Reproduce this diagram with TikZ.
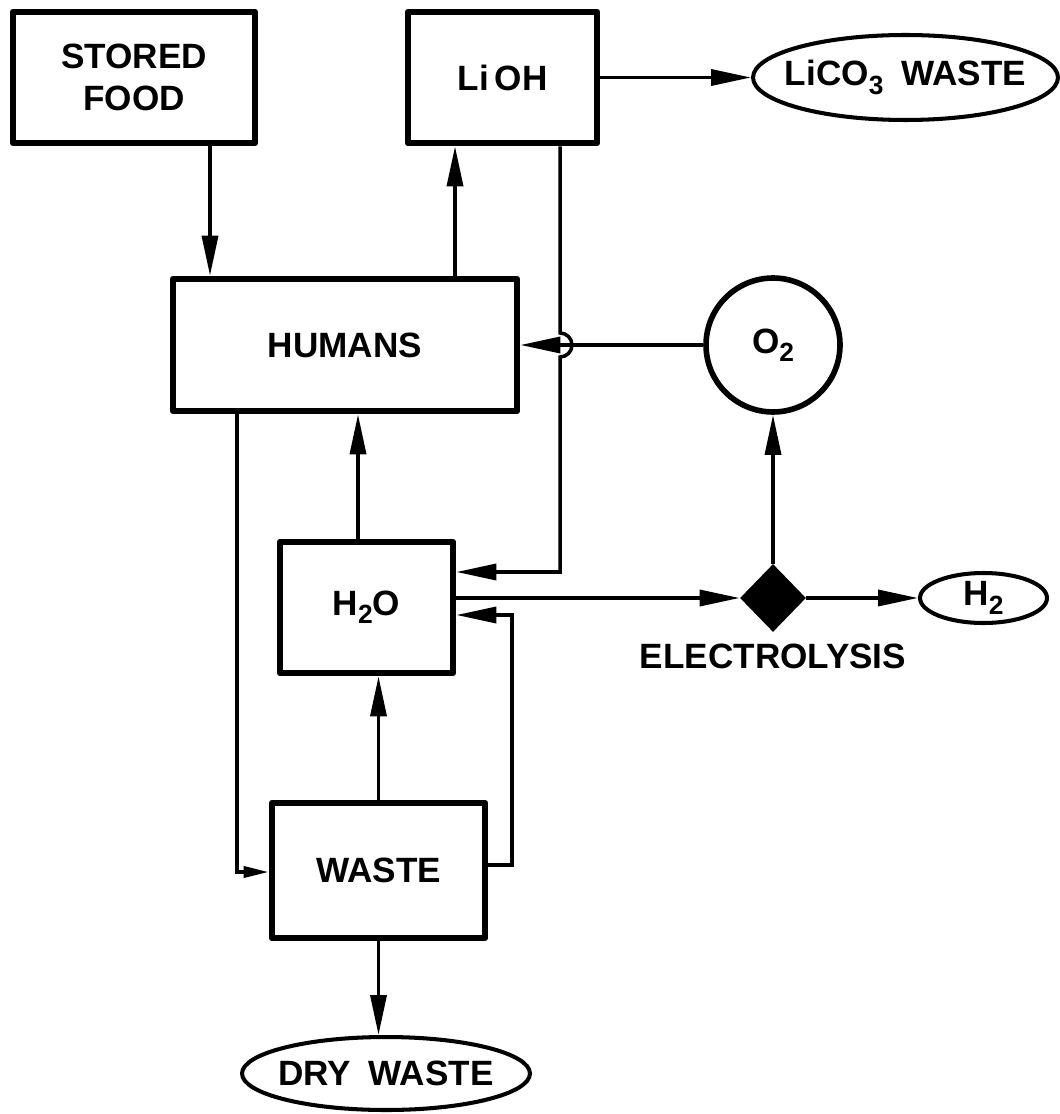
\documentclass[tikz,border=0pt]{standalone}
\usepackage{fontspec}
\setmainfont{Liberation Sans}
\usetikzlibrary{shapes.geometric, arrows.meta, positioning, calc}
\newcommand{\lowidx}[1]{\raisebox{-0.45ex}{\fontsize{15}{15}\selectfont #1}}

\begin{document}
\begin{tikzpicture}[x=0.02cm, y=0.02cm,
        font=\fontsize{20}{24}\selectfont\bfseries,
        box/.style={draw, line width=3.8pt, line join=round, inner sep=0pt, align=center},
        outflow/.style={ellipse, draw, line width=2.3pt, inner sep=0pt},
        flow/.style={line width=2pt, -{Triangle[length=0.8cm, width=0.32cm]}},
        smallflow/.style={line width=2pt, -{Triangle[length=0.5cm, width=0.22cm]}}]
        \useasboundingbox (0,0) rectangle (1059,-1114);

        % Stores and processes
        \node[box, minimum width=4.84cm, minimum height=2.62cm] (food) at (134,-77.5) {STORED\\FOOD};
        \node[box, minimum width=3.78cm, minimum height=2.62cm] (lioh) at (502.5,-77.5) {Li\,OH};
        \node[box, minimum width=6.88cm, minimum height=2.64cm] (humans) at (345,-345) {HUMANS};
        \node[box, minimum width=3.46cm, minimum height=2.62cm] (h2o) at (366.5,-607.5) {H\lowidx{2}O};
        \node[box, minimum width=4.26cm, minimum height=2.70cm] (waste) at (378.5,-870.5) {WASTE};

        % Oxygen and electrolysis
        \node[circle, draw, line width=3.2pt, minimum size=2.68cm, inner sep=0pt] (o2) at (773,-345) {O\lowidx{2}};
        \node[diamond, fill=black, minimum width=1.32cm, minimum height=1.36cm, inner sep=0pt] (elec) at (773,-598) {};
        \node (elabel) at (773,-656) {ELECTROLYSIS};

        % Outputs
        \node[outflow, minimum width=6.1cm, minimum height=1.7cm] (lico) at (905.5,-77.5) {\makebox[0pt]{LiCO\lowidx{3}\hspace{0.5em}WASTE}};
        \node[outflow, minimum width=2.54cm, minimum height=1.0cm] (h2) at (983.5,-598) {\makebox[0pt]{H\lowidx{2}}};
        \node[outflow, minimum width=5.76cm, minimum height=1.46cm] (dry) at (386,-1073.5) {\makebox[0pt]{DRY\hspace{0.5em}WASTE}};

        % Columns and rows of the connectors
        \coordinate (cfood) at (210,0);
        \coordinate (cup) at (455,0);
        \coordinate (cret) at (560,0);
        \coordinate (cmid) at (358,0);
        \coordinate (cleft) at (237,0);
        \coordinate (cloop) at (512,0);
        \coordinate (rret) at (0,-572);
        \coordinate (rloop) at (0,-615);
        \coordinate (rin) at (0,-872);
        \coordinate (rout) at (0,-865);

        % Connectors
        \draw[flow] (food.south -| cfood) -- (humans.north -| cfood);
        \draw[flow] (humans.north -| cup) -- (lioh.south -| cup);
        \draw[flow] (lioh.east) -- (lico.west);
        \draw[flow] (o2.west) -- (humans.east);
        \draw[flow] (lioh.south -| cret) -- ($(humans.east -| cret)+(0,12)$)
            arc[start angle=90, end angle=-90, radius=0.24cm] -- (cret |- rret) -- (h2o.east |- rret);
        \draw[flow] (h2o.north -| cmid) -- (humans.south -| cmid);
        \draw[flow] (h2o.east |- elec.west) -- (elec.west);
        \draw[flow] (elec.east) -- (h2.west);
        \draw[flow] (elec.north) -- (o2.south);
        \draw[flow] (waste.north) -- (waste.north |- h2o.south);
        \draw[flow] (waste.south) -- (waste.south |- dry.north);
        \draw[smallflow] (humans.south -| cleft) -- (cleft |- rin) -- (waste.west |- rin);
        \draw[flow] (waste.east |- rout) -- (cloop |- rout) -- (cloop |- rloop) -- (h2o.east |- rloop);
\end{tikzpicture}
\end{document}
